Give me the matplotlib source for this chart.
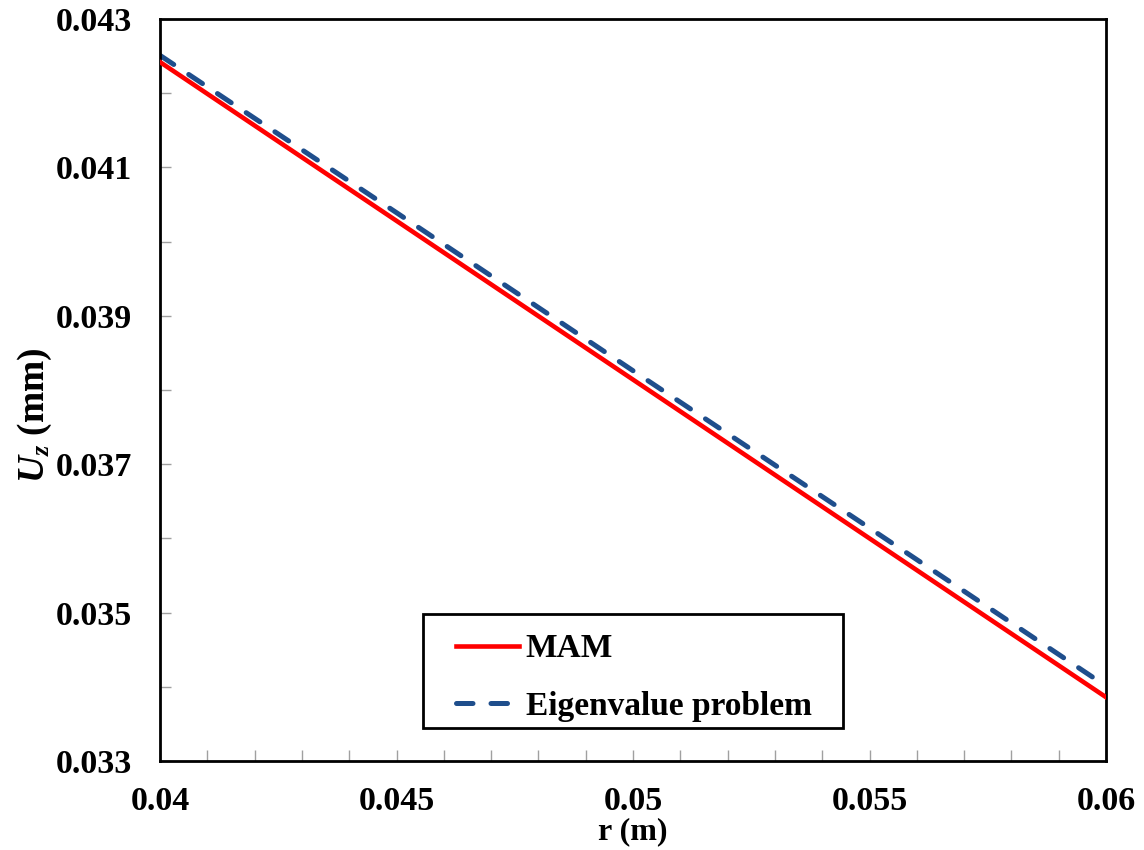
import numpy as np
import matplotlib.pyplot as plt
from matplotlib.patches import Rectangle
from matplotlib.ticker import MultipleLocator, FixedFormatter, FixedLocator

plt.rcParams['font.family'] = ['Liberation Serif', 'DejaVu Serif']
plt.rcParams['mathtext.fontset'] = 'custom'
plt.rcParams['mathtext.it'] = 'Liberation Serif:italic:bold'
plt.rcParams['mathtext.rm'] = 'Liberation Serif:bold'

# data
r = [0.04, 0.045, 0.05, 0.055, 0.06]
uz_mam = [0.04242, 0.04028, 0.03814, 0.03600, 0.03386]
uz_eig = [0.04251, 0.04039, 0.03826, 0.03614, 0.03401]

x_ticks = [0.04, 0.045, 0.05, 0.055, 0.06]
x_labels = ["0.04", "0.045", "0.05", "0.055", "0.06"]
y_ticks = [0.033, 0.035, 0.037, 0.039, 0.041, 0.043]
y_labels = ["0.033", "0.035", "0.037", "0.039", "0.041", "0.043"]

fig = plt.figure(figsize=(11.44, 8.5), dpi=100)
ax = fig.add_axes([160 / 1144, 1 - 761 / 850, 946 / 1144, 742 / 850])

ax.plot(r, uz_mam, color='#ff0000', lw=3.3, label='MAM', zorder=3)
ax.plot(r, uz_eig, color='#1f4e8c', lw=3.6, dashes=(3.3, 3.6),
        dash_capstyle='round', label='Eigenvalue problem', zorder=2)

ax.set_xlim(0.04, 0.06)
ax.set_ylim(0.033, 0.043)
ax.xaxis.set_major_locator(FixedLocator(x_ticks))
ax.xaxis.set_major_formatter(FixedFormatter(x_labels))
ax.xaxis.set_minor_locator(MultipleLocator(0.001))
ax.yaxis.set_major_locator(FixedLocator(y_ticks))
ax.yaxis.set_major_formatter(FixedFormatter(y_labels))
ax.yaxis.set_minor_locator(MultipleLocator(0.001))

ax.tick_params(which='both', direction='in', length=8, width=1,
               color='#a0a0a0', top=False, right=False)
ax.tick_params(axis='x', pad=18, labelsize=24.5)
ax.tick_params(axis='y', pad=20, labelsize=24.5)
for lab in ax.get_xticklabels() + ax.get_yticklabels():
    lab.set_fontweight('bold')
for s in ax.spines.values():
    s.set_linewidth(2)
    s.set_color('black')

ax.set_xlabel('r (m)', fontsize=23, fontweight='bold', labelpad=0)
ax.set_ylabel(r'$U_z$ (mm)', fontsize=27, fontweight='bold')
ax.yaxis.set_label_coords(-0.112, 0.466)

# legend box drawn separately so the padding matches the original
box = Rectangle((0.278, 0.0445), 0.444, 0.1536, transform=ax.transAxes,
                facecolor='white', edgecolor='black', lw=2, zorder=5)
ax.add_patch(box)
leg = ax.legend(loc='upper left', bbox_to_anchor=(0.3129, 0.172),
                frameon=False, borderpad=0, borderaxespad=0,
                handlelength=1.88, handletextpad=0.21,
                labelspacing=0.8, prop={'weight': 'bold', 'size': 24})
leg.set_zorder(6)

fig.savefig('out.png', dpi=100)
